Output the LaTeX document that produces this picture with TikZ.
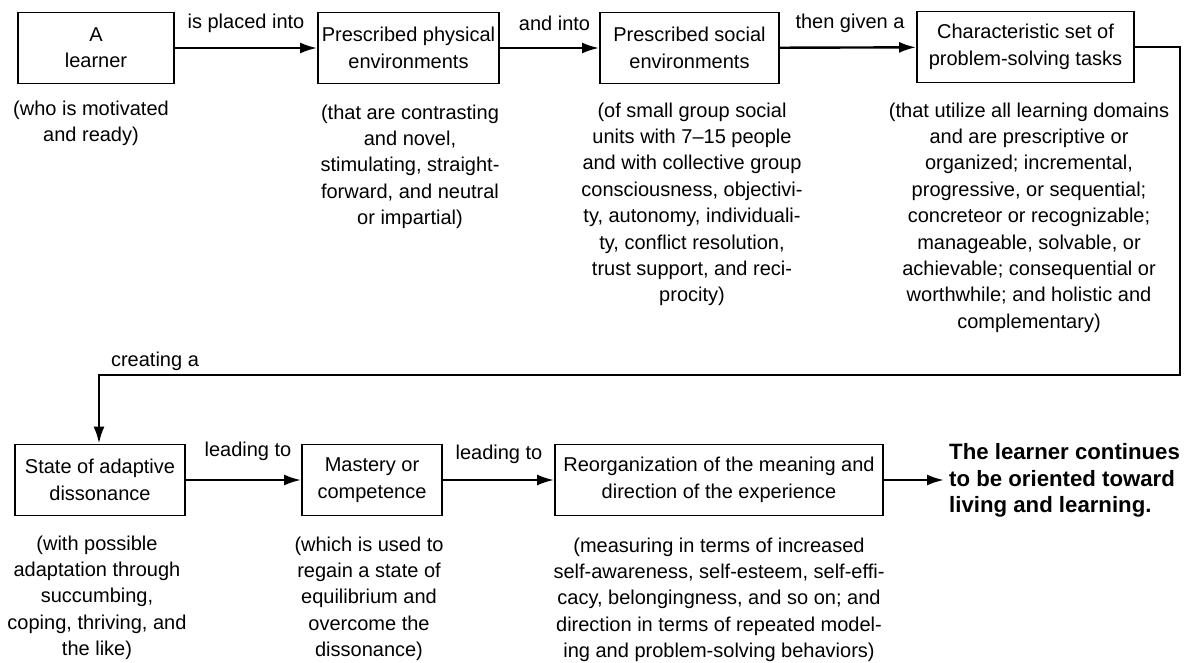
\documentclass[tikz,border=0pt]{standalone}
\usepackage{fontspec}
\setmainfont{Liberation Sans}
\usetikzlibrary{arrows.meta}
\begin{document}
\begin{tikzpicture}[x=1pt,y=-1pt,
  box/.style={draw, line width=1.8pt, align=center, inner sep=0pt,
    minimum height=71pt, font=\fontsize{20}{26.4}\selectfont},
  note/.style={align=center, anchor=north, inner sep=0pt,
    font=\fontsize{20}{26.4}\selectfont},
  lbl/.style={inner sep=0pt, font=\fontsize{20}{24}\selectfont},
  flow/.style={line width=2.4pt, -{Latex[length=17pt,width=11pt]}},
]
\useasboundingbox (0,0) rectangle (1190,663);

% top row of stages
\node[box, minimum width=156pt] (a) at (96,48)     {A\\learner};
\node[box, minimum width=181pt] (b) at (408.5,48)  {Prescribed physical\\environments};
\node[box, minimum width=179pt] (c) at (689.5,48)  {Prescribed social\\environments};
\node[box, minimum width=217pt] (d) at (1025.5,47) {Characteristic set of\\problem-solving tasks};

% bottom row of stages
\node[box, minimum width=170pt] (e) at (100,480) {State of adaptive\\dissonance};
\node[box, minimum width=140pt] (f) at (372,480) {Mastery or\\competence};
\node[box, minimum width=328pt] (g) at (719,480) {Reorganization of the meaning and\\direction of the experience};

\node[anchor=north west, align=left, inner sep=0pt,
  font=\bfseries\fontsize{22.2}{26.5}\selectfont] (end) at (949,443.5)
  {The learner continues\\to be oriented toward\\living and learning.};

% connector labels
\node[lbl] (l1) at (246,23)  {is placed into};
\node[lbl] (l2) at (554.5,23) {and into};
\node[lbl] (l3) at (850,23)  {then given a};
\node[lbl] (l4) at (155,361) {creating a};
\node[lbl] (l5) at (248,451) {leading to};
\node[lbl] (l6) at (499,454) {leading to};

% connectors
\draw[flow] (a) -- (b);
\draw[flow] (b) -- (c);
\draw[flow] (c) -- (d);
\coordinate (r1) at (1180,47);
\coordinate (r2) at (1180,375);
\coordinate (l2c) at (99,375);
\draw[flow] (d.east) -- (r1) -- (r2) -- (l2c) -- (l2c |- e.north);
\draw[flow] (e) -- (f);
\draw[flow] (f) -- (g);
\draw[flow, shorten >=5pt] (g.east) -- (g.east -| end.west);

% descriptions under each stage
\node[note] (na) at (91,100.5) {(who is motivated\\and ready)};
\node[note] (nb) at (410,104.5) {(that are contrasting\\and novel,\\stimulating, straight-\\forward, and neutral\\or impartial)};
\node[note] (nc) at (692,102.5) {(of small group social\\units with 7–15 people\\and with collective group\\consciousness, objectivi-\\ty, autonomy, individuali-\\ty, conflict resolution,\\trust support, and reci-\\procity)};
\node[note] (nd) at (1029,102.5) {(that utilize all learning domains\\and are prescriptive or\\organized; incremental,\\progressive, or sequential;\\concreteor or recognizable;\\manageable, solvable, or\\achievable; consequential or\\worthwhile; and holistic and\\complementary)};
\node[note] (ne) at (97,535.5) {(with possible\\adaptation through\\succumbing,\\coping, thriving, and\\the like)};
\node[note] (nf) at (369,536.5) {(which is used to\\regain a state of\\equilibrium and\\overcome the\\dissonance)};
\node[note] (ng) at (719,537.5) {(measuring in terms of increased\\self-awareness, self-esteem, self-effi-\\cacy, belongingness, and so on; and\\direction in terms of repeated model-\\ing and problem-solving behaviors)};
\end{tikzpicture}
\end{document}
